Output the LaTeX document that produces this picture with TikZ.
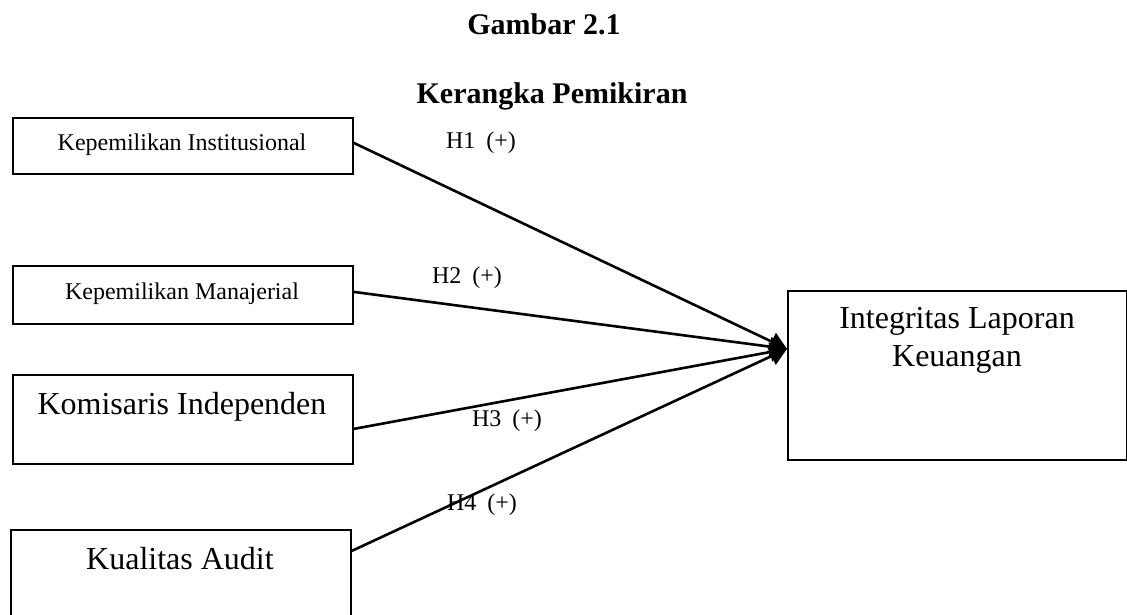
\documentclass[tikz,border=0pt]{standalone}
\usepackage{fontspec}
\setmainfont{Liberation Serif}
\usetikzlibrary{arrows.meta}
\begin{document}
\begin{tikzpicture}[x=1pt,y=-1pt,
  boxshape/.style={draw=black, line width=1.8pt, rectangle, anchor=north west, inner sep=0pt},
  smalltext/.style={font=\fontsize{24}{28}\selectfont, inner sep=0pt},
  bigtext/.style={font=\fontsize{32}{38}\selectfont, inner sep=0pt, align=center},
  titletext/.style={font=\fontsize{30}{36}\selectfont\bfseries, inner sep=0pt},
  hlabel/.style={font=\fontsize{24}{28}\selectfont, inner sep=0pt},
  link/.style={line width=2.6pt, -{Triangle[length=17pt,width=19pt]}}
]
\useasboundingbox (0,0) rectangle (1127,614);
\clip (0,0) rectangle (1127,614);

% titles
\node[titletext] (t1) at (544,24) {Gambar 2.1};
\node[titletext] (t2) at (552,96) {Kerangka Pemikiran};

% boxes
\node[boxshape, minimum width=340pt, minimum height=56pt] (b1) at (12,117) {};
\node[smalltext] (l1) at (182,145) {Kepemilikan Institusional};

\node[boxshape, minimum width=340pt, minimum height=58pt] (b2) at (12,265) {};
\node[smalltext] (l2) at (182,294) {Kepemilikan Manajerial};

\node[boxshape, minimum width=340pt, minimum height=89pt] (b3) at (12,374) {};
\node[bigtext] (l3) at (182,407) {Komisaris Independen};

\node[boxshape, minimum width=340pt, minimum height=111pt] (b4) at (10,529) {};
\node[bigtext] (l4) at (180,559) {Kualitas Audit};

\node[boxshape, minimum width=339pt, minimum height=169pt] (t) at (787,290) {};
\node[bigtext] (lt) at (957,340) {Integritas Laporan\\Keuangan};

\coordinate (tip) at ([yshift=26.5pt]t.west);

% connectors
\draw[link] ([yshift=3pt]b1.east) -- (tip);
\draw[link] ([yshift=3pt]b2.east) -- (tip);
\draw[link] ([yshift=-9.5pt]b3.east) -- (tip);
\draw[link] ([yshift=34.5pt]b4.east) -- (tip);

% labels
\node[hlabel] (h1) at (481,143) {H1\hspace{11pt}(+)};
\node[hlabel] (h2) at (467,278) {H2\hspace{11pt}(+)};
\node[hlabel] (h3) at (507,421) {H3\hspace{11pt}(+)};
\node[hlabel] (h4) at (482,505) {H4\hspace{11pt}(+)};
\end{tikzpicture}
\end{document}
